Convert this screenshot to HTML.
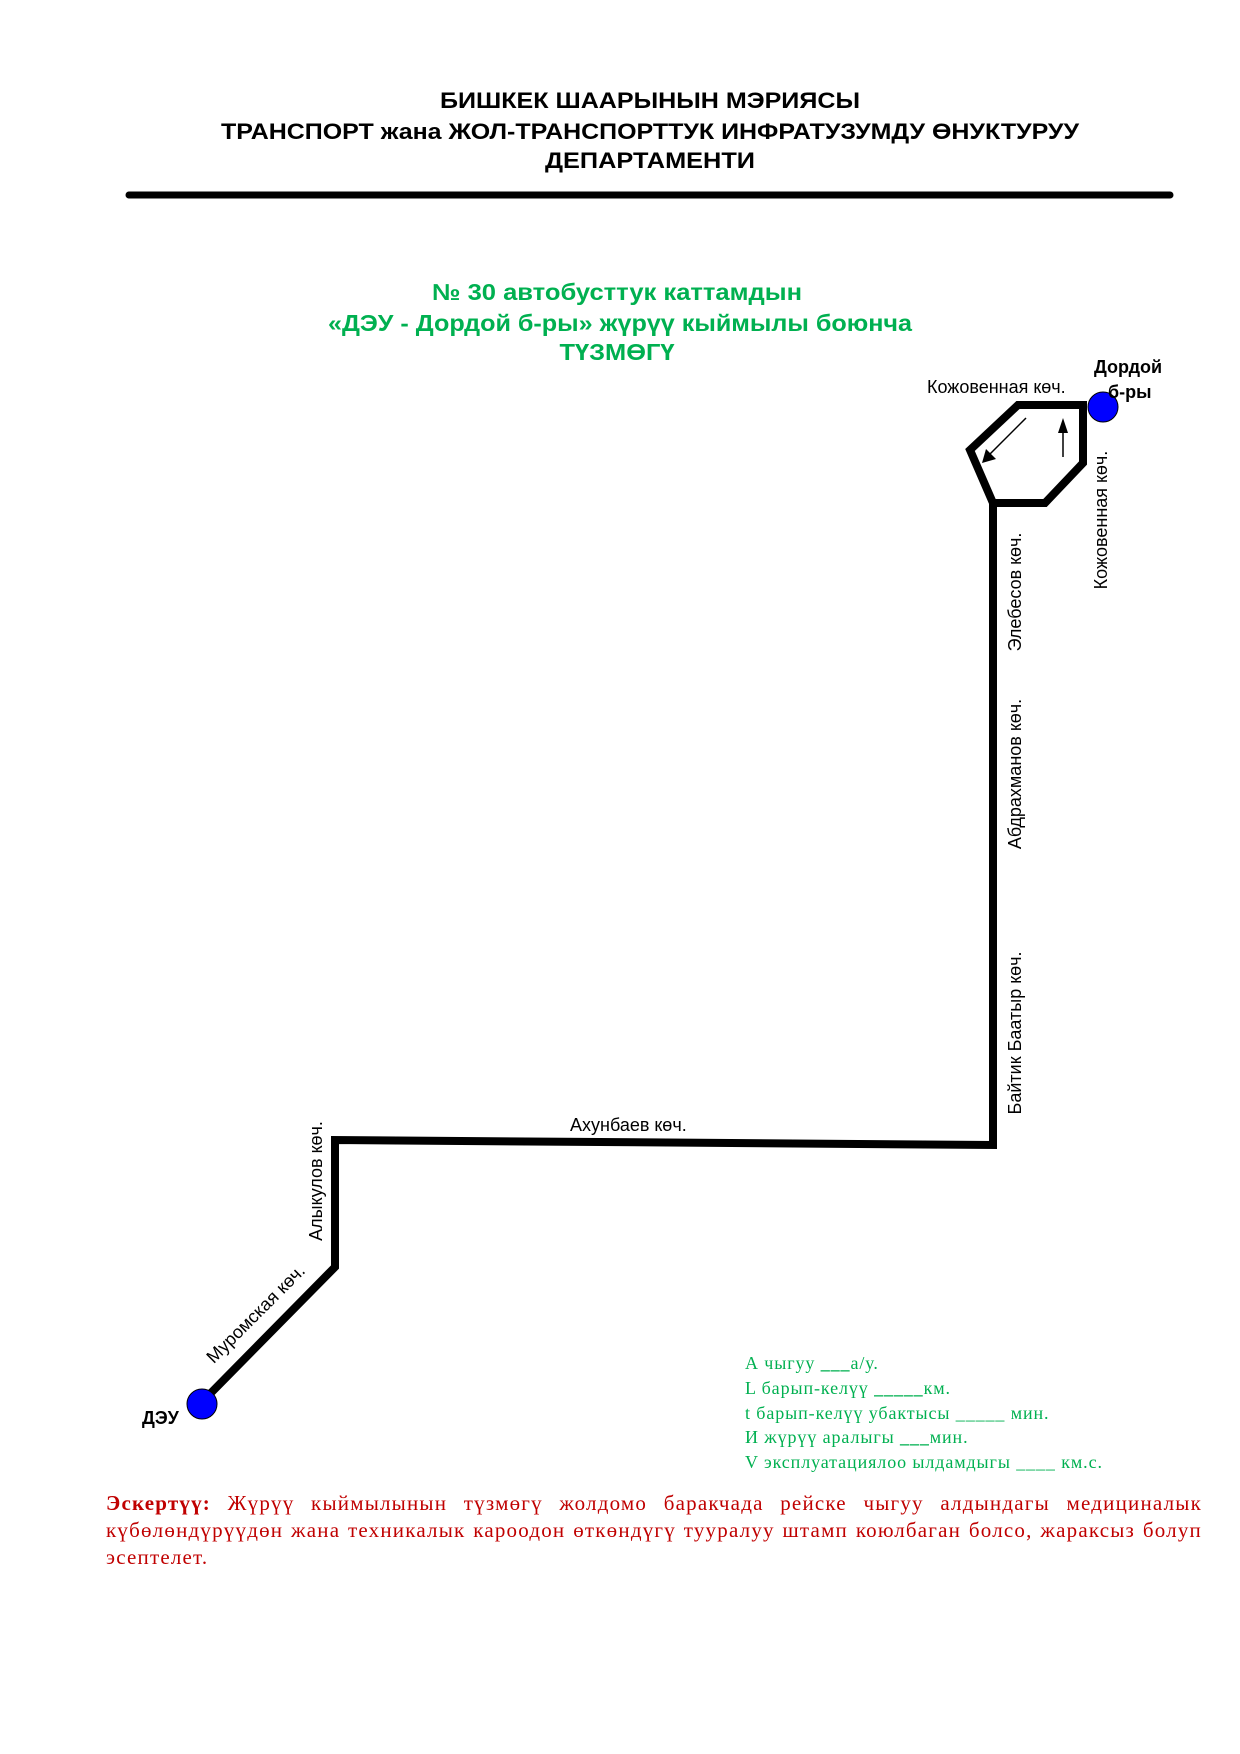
<!DOCTYPE html>
<html><head><meta charset="utf-8"><style>
body{margin:0;background:#fff}
.p{position:relative;width:1240px;height:1754px;overflow:hidden}
.note{position:absolute;left:106px;top:1490px;width:1096px;font:21px/27px "Liberation Serif",serif;letter-spacing:1.2px;color:#c00000;text-align:justify}
</style></head><body><div class="p">
<svg width="1240" height="1754" style="position:absolute;left:0;top:0">
<g font-family="Liberation Sans, sans-serif" font-weight="bold" font-size="22" text-anchor="middle">
<text x="650" y="108" textLength="420" lengthAdjust="spacingAndGlyphs">БИШКЕК ШААРЫНЫН МЭРИЯСЫ</text>
<text x="650" y="139" textLength="858" lengthAdjust="spacingAndGlyphs">ТРАНСПОРТ жана ЖОЛ-ТРАНСПОРТТУК ИНФРАТУЗУМДУ ӨНУКТУРУУ</text>
<text x="650" y="168" textLength="210" lengthAdjust="spacingAndGlyphs">ДЕПАРТАМЕНТИ</text>
</g>
<line x1="129" y1="195" x2="1170" y2="195" stroke="#000" stroke-width="7" stroke-linecap="round"/>
<g font-family="Liberation Sans, sans-serif" font-weight="bold" font-size="23" text-anchor="middle" fill="#00b050">
<text x="617" y="300" textLength="370" lengthAdjust="spacingAndGlyphs">№ 30 автобусттук  каттамдын</text>
<text x="620" y="331" textLength="584" lengthAdjust="spacingAndGlyphs">«ДЭУ - Дордой б-ры» жүрүү кыймылы боюнча</text>
<text x="617" y="360" textLength="115" lengthAdjust="spacingAndGlyphs">ТҮЗМӨГҮ</text>
</g>
<g fill="none" stroke="#000" stroke-width="8" stroke-linejoin="miter">
<polyline points="202,1402 335,1267 335,1140 993,1145 993,503 970,450 1018,405 1083,405 1083,463 1045,503 993,503"/>
</g>
<line x1="1026" y1="418" x2="989" y2="455" stroke="#000" stroke-width="1.5"/>
<polygon points="982,463 986,449 996,459" fill="#000"/>
<line x1="1063" y1="457" x2="1063" y2="430" stroke="#000" stroke-width="1.5"/>
<polygon points="1063,418 1058,433 1068,433" fill="#000"/>
<circle cx="1103" cy="407" r="15" fill="#0000ff" stroke="#000" stroke-width="1"/>
<circle cx="202" cy="1404" r="15" fill="#0000ff" stroke="#000" stroke-width="1"/>
<g font-family="Liberation Sans, sans-serif" font-size="18" fill="#000">
<text x="927" y="393">Кожовенная көч.</text>
<text x="570" y="1131">Ахунбаев көч.</text>
<text transform="translate(1021,592) rotate(-90)" text-anchor="middle">Элебесов көч.</text>
<text transform="translate(1021,774) rotate(-90)" text-anchor="middle">Абдрахманов көч.</text>
<text transform="translate(1021,1033) rotate(-90)" text-anchor="middle">Байтик Баатыр көч.</text>
<text transform="translate(1107,520) rotate(-90)" text-anchor="middle">Кожовенная көч.</text>
<text transform="translate(322,1181) rotate(-90)" text-anchor="middle">Алыкулов көч.</text>
<text transform="translate(260,1318) rotate(-45)" text-anchor="middle">Муромская көч.</text>
</g>
<g font-family="Liberation Sans, sans-serif" font-size="18" font-weight="bold">
<text x="1094" y="373">Дордой</text>
<text x="1108" y="398">б-ры</text>
<text x="142" y="1424">ДЭУ</text>
</g>
<g font-family="Liberation Serif, serif" font-size="18" letter-spacing="0.9" fill="#00b050">
<text x="745" y="1369">А чыгуу <tspan font-weight="bold">___</tspan>а/у.</text>
<text x="745" y="1394">L барып-келүү  <tspan font-weight="bold">_____</tspan>км.</text>
<text x="745" y="1419">t барып-келүү убактысы   _____ мин.</text>
<text x="745" y="1443">И жүрүү аралыгы <tspan font-weight="bold">___</tspan>мин.</text>
<text x="745" y="1468">V эксплуатациялоо ылдамдыгы ____ км.с.</text>
</g>
</svg>
<div class="note"><b>Эскертүү:</b> Жүрүү кыймылынын түзмөгү жолдомо баракчада рейске чыгуу алдындагы медициналык күбөлөндүрүүдөн жана техникалык кароодон өткөндүгү тууралуу штамп коюлбаган болсо, жараксыз болуп эсептелет.</div>
</div></body></html>
